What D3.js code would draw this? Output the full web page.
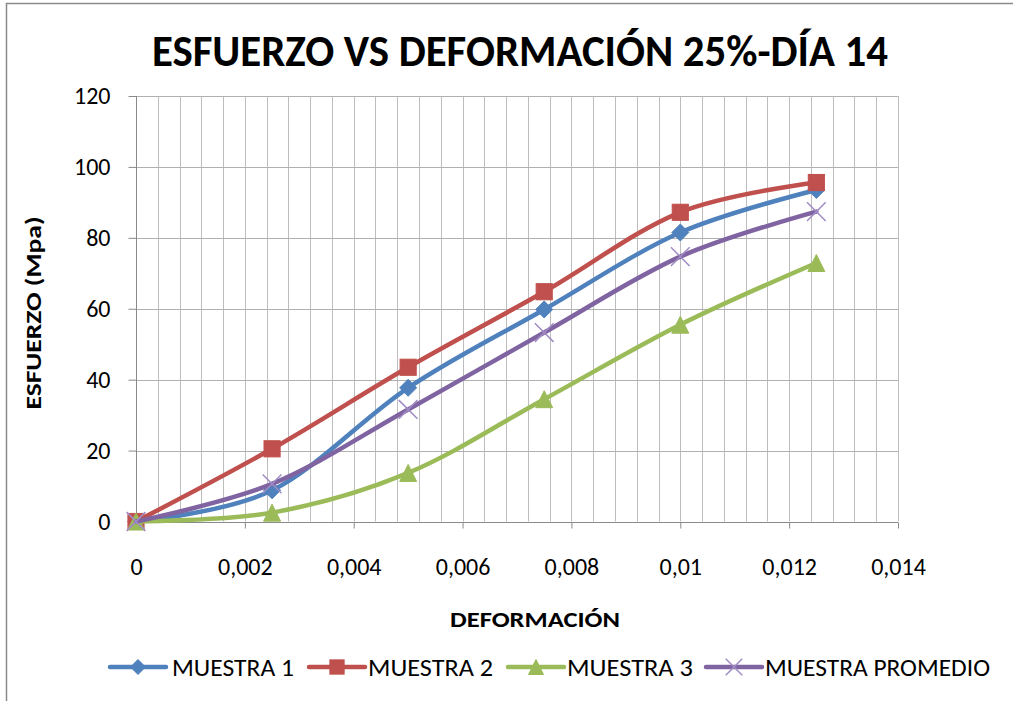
<!DOCTYPE html>
<html>
<head>
<meta charset="utf-8">
<script src="https://cdn.jsdelivr.net/npm/d3@7"></script>
<style>
  body { margin: 0; background: #fff; }
  svg { display: block; }
  text { font-family: Carlito, Calibri, Lato, "Open Sans", sans-serif; fill: #000; }
</style>
</head>
<body>
<svg id="chart" width="1013" height="701"></svg>
<script>
// Stress–strain readings, 25% mix, day 14
const deformacion = [0, 0.0025, 0.005, 0.0075, 0.01, 0.0125];
const muestra1 = [0, 8.8, 37.7, 59.8, 81.5, 93.5];
const muestra2 = [0, 20.5, 43.5, 64.8, 87.2, 95.6];
const muestra3 = [0, 2.5, 13.7, 34.5, 55.5, 72.9];
const muestraPromedio = [0, 10.6, 31.6, 53.3, 74.7, 87.4];

const seriesNames = ["MUESTRA 1", "MUESTRA 2", "MUESTRA 3", "MUESTRA PROMEDIO"];
const xTicks = [0, 0.002, 0.004, 0.006, 0.008, 0.01, 0.012, 0.014];
const xTickLabels = ["0", "0,002", "0,004", "0,006", "0,008", "0,01", "0,012", "0,014"];
const yTicks = [0, 20, 40, 60, 80, 100, 120];
const yTickLabels = ["0", "20", "40", "60", "80", "100", "120"];

const titleText = "ESFUERZO VS DEFORMACIÓN 25%-DÍA 14";
const xTitle = "DEFORMACIÓN";
const yTitle = "ESFUERZO (Mpa)";

const series = [
  { name: seriesNames[0], values: muestra1, color: "#4F81BD", marker: "diamond" },
  { name: seriesNames[1], values: muestra2, color: "#C0504D", marker: "square" },
  { name: seriesNames[2], values: muestra3, color: "#9BBB59", marker: "triangle" },
  { name: seriesNames[3], values: muestraPromedio, color: "#8064A2", marker: "x" }
];

const svg = d3.select("#chart");

// chart frame
svg.append("rect")
  .attr("x", 6.5).attr("y", 3.5)
  .attr("width", 1030).attr("height", 720)
  .attr("fill", "#fff").attr("stroke", "#8a8a8a").attr("stroke-width", 1.5);

const x = d3.scaleLinear().domain([0, 0.014]).range([136, 898]);
const y = d3.scaleLinear().domain([0, 120]).range([521.5, 96]);

// vertical gridlines: five per labelled interval
const minorX = d3.range(0, 36).map(i => i * 0.0004);
svg.append("g").selectAll("line").data(minorX).join("line")
  .attr("x1", d => Math.round(x(d)) + 0.5).attr("x2", d => Math.round(x(d)) + 0.5)
  .attr("y1", y(120)).attr("y2", y(0))
  .attr("stroke", "#bdbdbd").attr("stroke-width", 1);

// horizontal gridlines
svg.append("g").selectAll("line").data(yTicks).join("line")
  .attr("x1", x(0)).attr("x2", x(0.014))
  .attr("y1", d => Math.round(y(d)) + 0.5).attr("y2", d => Math.round(y(d)) + 0.5)
  .attr("stroke", "#b0b0b0").attr("stroke-width", 1);

// axes
const yAxis = d3.axisLeft(y).tickValues(yTicks)
  .tickFormat((d, i) => yTickLabels[i]).tickSize(8).tickPadding(18);
const gy = svg.append("g").attr("transform", `translate(${Math.round(x(0)) + 0.5},0)`).call(yAxis);

const xAxis = d3.axisBottom(x).tickValues(xTicks)
  .tickFormat((d, i) => xTickLabels[i]).tickSize(6).tickPadding(29);
const gx = svg.append("g").attr("transform", `translate(0,${Math.round(y(0)) + 0.5})`).call(xAxis);

[gx, gy].forEach(g => {
  g.select(".domain").attr("stroke", "#8a8a8a").attr("stroke-width", 1);
  g.selectAll(".tick line").attr("stroke", "#8a8a8a");
  g.selectAll(".tick text")
    .attr("font-family", "Carlito, Calibri, Lato, sans-serif")
    .attr("font-size", 24).attr("fill", "#222");
});
gx.select(".domain").attr("d", `M${x(0)},0H${x(0.014)}`);
gy.select(".domain").attr("d", `M0,${y(0)}V${y(120)}`);

// smoothed series lines and markers
const line = d3.line()
  .x((d, i) => x(deformacion[i]))
  .y(d => y(d))
  .curve(d3.curveCardinal.tension(0));

function drawMarker(g, type, color, cx, cy, s) {
  if (type === "diamond") {
    g.append("path")
      .attr("d", `M${cx},${cy - s / 2}L${cx + s / 2},${cy}L${cx},${cy + s / 2}L${cx - s / 2},${cy}Z`)
      .attr("fill", color).attr("stroke", color).attr("stroke-width", 1);
  } else if (type === "square") {
    const w = s * 0.95;
    g.append("rect").attr("x", cx - w / 2).attr("y", cy - w / 2)
      .attr("width", w).attr("height", w)
      .attr("fill", color).attr("stroke", color).attr("stroke-width", 1);
  } else if (type === "triangle") {
    g.append("path")
      .attr("d", `M${cx},${cy - s / 2}L${cx + s / 2},${cy + s / 2}L${cx - s / 2},${cy + s / 2}Z`)
      .attr("fill", color).attr("stroke", color).attr("stroke-width", 1);
  } else {
    const h = s * 0.55;
    g.append("path")
      .attr("d", `M${cx - h},${cy - h}L${cx + h},${cy + h}M${cx - h},${cy + h}L${cx + h},${cy - h}`)
      .attr("stroke", "#a08cc4").attr("stroke-width", 1.5).attr("fill", "none");
  }
}

series.forEach(s => {
  const g = svg.append("g");
  g.append("path").datum(s.values)
    .attr("d", line)
    .attr("fill", "none").attr("stroke", s.color)
    .attr("stroke-width", 4.5).attr("stroke-linejoin", "round").attr("stroke-linecap", "round");
  s.values.forEach((v, i) => drawMarker(g, s.marker, s.color, x(deformacion[i]), y(v), 17));
});

// title
svg.append("text")
  .attr("x", 520).attr("y", 66)
  .attr("text-anchor", "middle")
  .attr("font-size", 44).attr("font-weight", "bold")
  .attr("textLength", 736).attr("lengthAdjust", "spacingAndGlyphs")
  .text(titleText);

// axis titles
svg.append("text")
  .attr("x", 535).attr("y", 627)
  .attr("text-anchor", "middle")
  .attr("font-size", 23).attr("font-weight", "bold")
  .attr("textLength", 170).attr("lengthAdjust", "spacingAndGlyphs")
  .text(xTitle);

svg.append("text")
  .attr("transform", "translate(41,313) rotate(-90)")
  .attr("text-anchor", "middle")
  .attr("font-size", 23).attr("font-weight", "bold")
  .attr("textLength", 193).attr("lengthAdjust", "spacingAndGlyphs")
  .text(yTitle);

// legend
const legendItems = [
  { lineX: 110, textX: 172, textW: 122 },
  { lineX: 309, textX: 368, textW: 125 },
  { lineX: 508, textX: 567, textW: 126 },
  { lineX: 706, textX: 765, textW: 225 }
];
const legendY = 667;
series.forEach((s, i) => {
  const it = legendItems[i];
  const g = svg.append("g");
  g.append("line")
    .attr("x1", it.lineX).attr("x2", it.lineX + 56)
    .attr("y1", legendY).attr("y2", legendY)
    .attr("stroke", s.color).attr("stroke-width", 4.5).attr("stroke-linecap", "round");
  drawMarker(g, s.marker, s.color, it.lineX + 28, legendY, 15);
  g.append("text")
    .attr("x", it.textX).attr("y", legendY + 8.5)
    .attr("font-size", 24)
    .attr("textLength", it.textW).attr("lengthAdjust", "spacingAndGlyphs")
    .text(s.name);
});
</script>
</body>
</html>
